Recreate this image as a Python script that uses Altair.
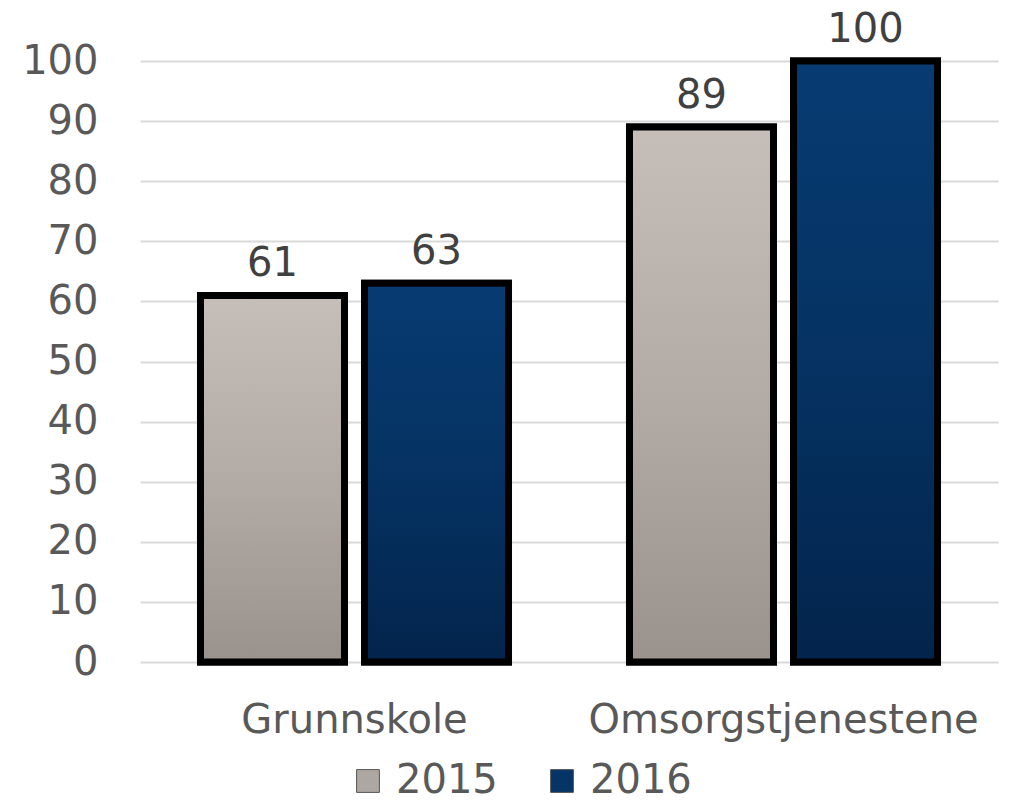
import altair as alt
import pandas as pd

categories = ["Grunnskole", "Grunnskole", "Omsorgstjenestene", "Omsorgstjenestene"]
years = ["2015", "2016", "2015", "2016"]
values = [61, 63, 89, 100]

df = pd.DataFrame({"kategori": categories, "år": years, "verdi": values})

FONT = "DejaVu Sans"

grad_2015 = alt.Gradient(
    gradient="linear", x1=0, x2=0, y1=0, y2=1,
    stops=[alt.GradientStop(color="#c6beb8", offset=0),
           alt.GradientStop(color="#b3aba5", offset=0.5),
           alt.GradientStop(color="#9a928c", offset=1)],
)
grad_2016 = alt.Gradient(
    gradient="linear", x1=0, x2=0, y1=0, y2=1,
    stops=[alt.GradientStop(color="#073b72", offset=0),
           alt.GradientStop(color="#053262", offset=0.5),
           alt.GradientStop(color="#03244c", offset=1)],
)

x_enc = alt.X("kategori:N", title=None,
              scale=alt.Scale(paddingInner=0.282, paddingOuter=0.141),
              axis=alt.Axis(labelAngle=0, labelFont=FONT, labelFontSize=40,
                            labelColor="#595959", labelPadding=38, labelLimit=0,
                            ticks=False, domain=False, grid=False))
xoff_enc = alt.XOffset("år:N", scale=alt.Scale(paddingInner=0.122, paddingOuter=0))
y_enc = alt.Y("verdi:Q", title=None,
              scale=alt.Scale(domain=[0, 100], nice=False),
              axis=alt.Axis(values=list(range(0, 101, 10)), labelFont=FONT,
                            labelFontSize=40, labelColor="#595959",
                            labelPadding=42, ticks=False, domain=False,
                            grid=True, gridColor="#d9d9d9", gridWidth=2))

base = alt.Chart(df)

bars_legend = base.mark_bar(stroke="black", strokeWidth=7).encode(
    x=x_enc, xOffset=xoff_enc, y=y_enc,
    color=alt.Color("år:N",
                    scale=alt.Scale(domain=["2015", "2016"], range=["#aea6a0", "#063466"]),
                    legend=alt.Legend(title=None, orient="none", direction="horizontal",
                                      legendX=208, legendY=700,
                                      labelFont=FONT, labelFontSize=40,
                                      labelColor="#595959", symbolType="square",
                                      symbolSize=520, symbolStrokeColor="#555555",
                                      symbolStrokeWidth=1, columnPadding=44,
                                      labelOffset=8)),
)

bars_2015 = base.transform_filter(alt.datum["år"] == "2015").mark_bar(
    stroke="black", strokeWidth=7, fill=grad_2015
).encode(x=x_enc, xOffset=xoff_enc, y=y_enc)

bars_2016 = base.transform_filter(alt.datum["år"] == "2016").mark_bar(
    stroke="black", strokeWidth=7, fill=grad_2016
).encode(x=x_enc, xOffset=xoff_enc, y=y_enc)

labels = base.mark_text(baseline="bottom", dy=-11, font=FONT, fontSize=40,
                        color="#404040").encode(
    x=x_enc, xOffset=xoff_enc, y=y_enc, text=alt.Text("verdi:Q"))

chart = alt.layer(bars_legend, bars_2015, bars_2016, labels).properties(
    width=858, height=601,
    background="white",
    autosize=alt.AutoSizeParams(type="none"),
    padding={"left": 132, "top": 53, "right": 11, "bottom": 140},
).configure_view(stroke="transparent", strokeWidth=0)

chart.save("out.html", embed_options={"renderer": "svg", "actions": False})
